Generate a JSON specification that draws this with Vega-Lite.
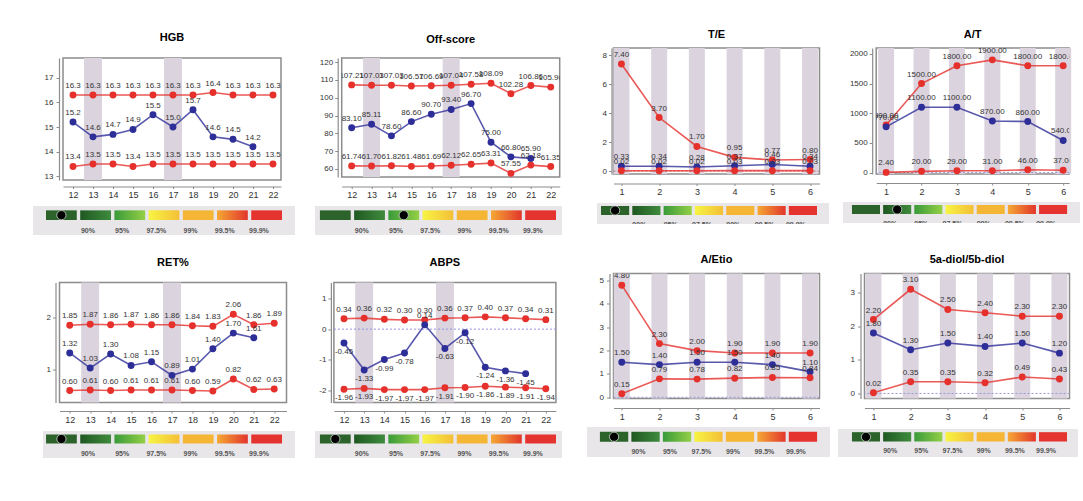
{
"$schema": "https://vega.github.io/schema/vega-lite/v6.json",
"padding": {"left": 33, "top": 27, "right": 0, "bottom": 0},
"background": "white",
"config": {
  "font": "Liberation Sans",
  "locale": {"number": {"decimal": ".", "thousands": ",", "grouping": [3], "currency": ["$", ""], "minus": "-"}},
  "view": {"stroke": "#8c8c8c", "strokeWidth": 1.5},
  "axis": {"grid": false, "labelFont": "Liberation Sans", "labelColor": "#333333", "domainColor": "#8c8c8c", "tickColor": "#8c8c8c", "domainWidth": 1.2, "labelFlush": false, "labelOverlap": false, "labelBound": false},
  "axisY": {"labelFontSize": 8, "tickSize": 3},
  "axisX": {"labelFontSize": 9, "tickSize": 2, "labelPadding": 2, "labelAngle": 0},
  "title": {"fontSize": 11, "fontWeight": "bold", "color": "#000000", "font": "Liberation Sans"}
},
"datasets": {
  "scale": [
    {"level": 0, "row": "s", "label": ""},
    {"level": 1, "row": "s", "label": "90%"},
    {"level": 2, "row": "s", "label": "95%"},
    {"level": 3, "row": "s", "label": "97.5%"},
    {"level": 4, "row": "s", "label": "99%"},
    {"level": 5, "row": "s", "label": "99.5%"},
    {"level": 6, "row": "s", "label": "99.9%"}
  ],
  "hgb": [
    {"x": 12, "series": "upper", "value": 16.3}, {"x": 13, "series": "upper", "value": 16.3}, {"x": 14, "series": "upper", "value": 16.3}, {"x": 15, "series": "upper", "value": 16.3}, {"x": 16, "series": "upper", "value": 16.3}, {"x": 17, "series": "upper", "value": 16.3}, {"x": 18, "series": "upper", "value": 16.3}, {"x": 19, "series": "upper", "value": 16.4}, {"x": 20, "series": "upper", "value": 16.3}, {"x": 21, "series": "upper", "value": 16.3}, {"x": 22, "series": "upper", "value": 16.3},
    {"x": 12, "series": "individual", "value": 15.2}, {"x": 13, "series": "individual", "value": 14.6}, {"x": 14, "series": "individual", "value": 14.7}, {"x": 15, "series": "individual", "value": 14.9}, {"x": 16, "series": "individual", "value": 15.5}, {"x": 17, "series": "individual", "value": 15.0}, {"x": 18, "series": "individual", "value": 15.7}, {"x": 19, "series": "individual", "value": 14.6}, {"x": 20, "series": "individual", "value": 14.5}, {"x": 21, "series": "individual", "value": 14.2},
    {"x": 12, "series": "lower", "value": 13.4}, {"x": 13, "series": "lower", "value": 13.5}, {"x": 14, "series": "lower", "value": 13.5}, {"x": 15, "series": "lower", "value": 13.4}, {"x": 16, "series": "lower", "value": 13.5}, {"x": 17, "series": "lower", "value": 13.5}, {"x": 18, "series": "lower", "value": 13.5}, {"x": 19, "series": "lower", "value": 13.5}, {"x": 20, "series": "lower", "value": 13.5}, {"x": 21, "series": "lower", "value": 13.5}, {"x": 22, "series": "lower", "value": 13.5}
  ],
  "off": [
    {"x": 12, "series": "upper", "value": 107.21}, {"x": 13, "series": "upper", "value": 107.03}, {"x": 14, "series": "upper", "value": 107.03}, {"x": 15, "series": "upper", "value": 106.57}, {"x": 16, "series": "upper", "value": 106.69}, {"x": 17, "series": "upper", "value": 107.04}, {"x": 18, "series": "upper", "value": 107.58}, {"x": 19, "series": "upper", "value": 108.09}, {"x": 20, "series": "upper", "value": 102.28}, {"x": 21, "series": "upper", "value": 106.86}, {"x": 22, "series": "upper", "value": 105.96},
    {"x": 12, "series": "individual", "value": 83.10}, {"x": 13, "series": "individual", "value": 85.11}, {"x": 14, "series": "individual", "value": 78.60}, {"x": 15, "series": "individual", "value": 86.60}, {"x": 16, "series": "individual", "value": 90.70}, {"x": 17, "series": "individual", "value": 93.40}, {"x": 18, "series": "individual", "value": 96.70}, {"x": 19, "series": "individual", "value": 75.00}, {"x": 20, "series": "individual", "value": 66.80}, {"x": 21, "series": "individual", "value": 65.90},
    {"x": 12, "series": "lower", "value": 61.74}, {"x": 13, "series": "lower", "value": 61.70}, {"x": 14, "series": "lower", "value": 61.82}, {"x": 15, "series": "lower", "value": 61.48}, {"x": 16, "series": "lower", "value": 61.69}, {"x": 17, "series": "lower", "value": 62.12}, {"x": 18, "series": "lower", "value": 62.65}, {"x": 19, "series": "lower", "value": 63.31}, {"x": 20, "series": "lower", "value": 57.55}, {"x": 21, "series": "lower", "value": 62.18}, {"x": 22, "series": "lower", "value": 61.35}
  ],
  "te": [
    {"x": 1, "series": "upper", "value": 7.40}, {"x": 2, "series": "upper", "value": 3.70}, {"x": 3, "series": "upper", "value": 1.70}, {"x": 4, "series": "upper", "value": 0.95}, {"x": 5, "series": "upper", "value": 0.77}, {"x": 6, "series": "upper", "value": 0.80},
    {"x": 1, "series": "individual", "value": 0.33}, {"x": 2, "series": "individual", "value": 0.34}, {"x": 3, "series": "individual", "value": 0.28}, {"x": 4, "series": "individual", "value": 0.37}, {"x": 5, "series": "individual", "value": 0.46}, {"x": 6, "series": "individual", "value": 0.34},
    {"x": 1, "series": "lower", "value": 0.02}, {"x": 2, "series": "lower", "value": 0.02}, {"x": 3, "series": "lower", "value": 0.02}, {"x": 4, "series": "lower", "value": 0.03}, {"x": 5, "series": "lower", "value": 0.03}, {"x": 6, "series": "lower", "value": 0.03}
  ],
  "at": [
    {"x": 1, "series": "upper", "value": 800}, {"x": 2, "series": "upper", "value": 1500}, {"x": 3, "series": "upper", "value": 1800}, {"x": 4, "series": "upper", "value": 1900}, {"x": 5, "series": "upper", "value": 1800}, {"x": 6, "series": "upper", "value": 1800},
    {"x": 1, "series": "individual", "value": 770}, {"x": 2, "series": "individual", "value": 1100}, {"x": 3, "series": "individual", "value": 1100}, {"x": 4, "series": "individual", "value": 870}, {"x": 5, "series": "individual", "value": 860}, {"x": 6, "series": "individual", "value": 540},
    {"x": 1, "series": "lower", "value": 2.40}, {"x": 2, "series": "lower", "value": 20.00}, {"x": 3, "series": "lower", "value": 29.00}, {"x": 4, "series": "lower", "value": 31.00}, {"x": 5, "series": "lower", "value": 46.00}, {"x": 6, "series": "lower", "value": 37.00}
  ],
  "ret": [
    {"x": 12, "series": "upper", "value": 1.85}, {"x": 13, "series": "upper", "value": 1.87}, {"x": 14, "series": "upper", "value": 1.86}, {"x": 15, "series": "upper", "value": 1.87}, {"x": 16, "series": "upper", "value": 1.86}, {"x": 17, "series": "upper", "value": 1.86}, {"x": 18, "series": "upper", "value": 1.84}, {"x": 19, "series": "upper", "value": 1.83}, {"x": 20, "series": "upper", "value": 2.06}, {"x": 21, "series": "upper", "value": 1.86}, {"x": 22, "series": "upper", "value": 1.89},
    {"x": 12, "series": "individual", "value": 1.32}, {"x": 13, "series": "individual", "value": 1.03}, {"x": 14, "series": "individual", "value": 1.30}, {"x": 15, "series": "individual", "value": 1.08}, {"x": 16, "series": "individual", "value": 1.15}, {"x": 17, "series": "individual", "value": 0.89}, {"x": 18, "series": "individual", "value": 1.01}, {"x": 19, "series": "individual", "value": 1.40}, {"x": 20, "series": "individual", "value": 1.70}, {"x": 21, "series": "individual", "value": 1.61},
    {"x": 12, "series": "lower", "value": 0.60}, {"x": 13, "series": "lower", "value": 0.61}, {"x": 14, "series": "lower", "value": 0.60}, {"x": 15, "series": "lower", "value": 0.61}, {"x": 16, "series": "lower", "value": 0.61}, {"x": 17, "series": "lower", "value": 0.61}, {"x": 18, "series": "lower", "value": 0.60}, {"x": 19, "series": "lower", "value": 0.59}, {"x": 20, "series": "lower", "value": 0.82}, {"x": 21, "series": "lower", "value": 0.62}, {"x": 22, "series": "lower", "value": 0.63}
  ],
  "abps": [
    {"x": 12, "series": "upper", "value": 0.34}, {"x": 13, "series": "upper", "value": 0.36}, {"x": 14, "series": "upper", "value": 0.32}, {"x": 15, "series": "upper", "value": 0.30}, {"x": 16, "series": "upper", "value": 0.30}, {"x": 17, "series": "upper", "value": 0.36}, {"x": 18, "series": "upper", "value": 0.37}, {"x": 19, "series": "upper", "value": 0.40}, {"x": 20, "series": "upper", "value": 0.37}, {"x": 21, "series": "upper", "value": 0.34}, {"x": 22, "series": "upper", "value": 0.31},
    {"x": 12, "series": "individual", "value": -0.45}, {"x": 13, "series": "individual", "value": -1.33}, {"x": 14, "series": "individual", "value": -0.99}, {"x": 15, "series": "individual", "value": -0.78}, {"x": 16, "series": "individual", "value": 0.14}, {"x": 17, "series": "individual", "value": -0.63}, {"x": 18, "series": "individual", "value": -0.12}, {"x": 19, "series": "individual", "value": -1.24}, {"x": 20, "series": "individual", "value": -1.36}, {"x": 21, "series": "individual", "value": -1.45},
    {"x": 12, "series": "lower", "value": -1.96}, {"x": 13, "series": "lower", "value": -1.93}, {"x": 14, "series": "lower", "value": -1.97}, {"x": 15, "series": "lower", "value": -1.97}, {"x": 16, "series": "lower", "value": -1.97}, {"x": 17, "series": "lower", "value": -1.91}, {"x": 18, "series": "lower", "value": -1.90}, {"x": 19, "series": "lower", "value": -1.86}, {"x": 20, "series": "lower", "value": -1.89}, {"x": 21, "series": "lower", "value": -1.91}, {"x": 22, "series": "lower", "value": -1.94}
  ],
  "aetio": [
    {"x": 1, "series": "upper", "value": 4.80}, {"x": 2, "series": "upper", "value": 2.30}, {"x": 3, "series": "upper", "value": 2.00}, {"x": 4, "series": "upper", "value": 1.90}, {"x": 5, "series": "upper", "value": 1.90}, {"x": 6, "series": "upper", "value": 1.90},
    {"x": 1, "series": "individual", "value": 1.50}, {"x": 2, "series": "individual", "value": 1.40}, {"x": 3, "series": "individual", "value": 1.50}, {"x": 4, "series": "individual", "value": 1.50}, {"x": 5, "series": "individual", "value": 1.40}, {"x": 6, "series": "individual", "value": 1.10},
    {"x": 1, "series": "lower", "value": 0.15}, {"x": 2, "series": "lower", "value": 0.79}, {"x": 3, "series": "lower", "value": 0.78}, {"x": 4, "series": "lower", "value": 0.82}, {"x": 5, "series": "lower", "value": 0.85}, {"x": 6, "series": "lower", "value": 0.84}
  ],
  "diol": [
    {"x": 1, "series": "upper", "value": 2.20}, {"x": 2, "series": "upper", "value": 3.10}, {"x": 3, "series": "upper", "value": 2.50}, {"x": 4, "series": "upper", "value": 2.40}, {"x": 5, "series": "upper", "value": 2.30}, {"x": 6, "series": "upper", "value": 2.30},
    {"x": 1, "series": "individual", "value": 1.80}, {"x": 2, "series": "individual", "value": 1.30}, {"x": 3, "series": "individual", "value": 1.50}, {"x": 4, "series": "individual", "value": 1.40}, {"x": 5, "series": "individual", "value": 1.50}, {"x": 6, "series": "individual", "value": 1.20},
    {"x": 1, "series": "lower", "value": 0.02}, {"x": 2, "series": "lower", "value": 0.35}, {"x": 3, "series": "lower", "value": 0.35}, {"x": 4, "series": "lower", "value": 0.32}, {"x": 5, "series": "lower", "value": 0.49}, {"x": 6, "series": "lower", "value": 0.43}
  ]
},
"spacing": 25,
"hconcat": [
 {"spacing": 20.5, "vconcat": [
  {"spacing": -18, "vconcat": [
   {"width": 1, "height": 1, "view": {"stroke": null}, "data": {"values": []}, "mark": "point"},
   {"spacing": 20, "hconcat": [
    {"spacing": 5, "vconcat": [
     {"spacing": 9, "hconcat": [
      {"width": 1, "height": 122, "view": {"stroke": null}, "data": {"values": []}, "mark": "point"},
      {"width": 218, "height": 122, "title": {"text": "HGB", "offset": 6}, "data": {"name": "hgb"},
       "layer": [
        {"data": {"values": [{"x": 13}, {"x": 17}]}, "mark": {"type": "rule", "color": "#dbd3de", "strokeWidth": 18},
         "encoding": {"x": {"field": "x", "type": "quantitative", "title": null, "scale": {"domain": [11.5, 22.4], "nice": false, "zero": false}, "axis": {"values": [12,13,14,15,16,17,18,19,20,21,22], "offset": 6.5, "format": "d", "labelOverlap": false}}}},
        {"mark": {"type": "line", "strokeWidth": 1.6, "opacity": 0.8},
         "encoding": {"x": {"field": "x", "type": "quantitative", "title": null, "scale": {"domain": [11.5, 22.4], "nice": false, "zero": false}, "axis": {"values": [12,13,14,15,16,17,18,19,20,21,22], "offset": 6.5, "format": "d", "labelOverlap": false}},
                      "y": {"field": "value", "type": "quantitative", "title": null, "scale": {"domain": [12.85, 17.8], "nice": false, "zero": false}, "axis": {"values": [13,14,15,16,17], "offset": 4, "labelPadding": 3, "labelOverlap": false}},
                      "color": {"field": "series", "type": "nominal", "scale": {"domain": ["upper", "individual", "lower"], "range": ["#e5302c", "#2e2e98", "#e5302c"]}, "legend": null}}},
        {"mark": {"type": "circle", "size": 48, "opacity": 1},
         "encoding": {"x": {"field": "x", "type": "quantitative", "title": null, "scale": {"domain": [11.5, 22.4], "nice": false, "zero": false}, "axis": {"values": [12,13,14,15,16,17,18,19,20,21,22], "offset": 6.5, "format": "d", "labelOverlap": false}},
                      "y": {"field": "value", "type": "quantitative", "title": null, "scale": {"domain": [12.85, 17.8], "nice": false, "zero": false}, "axis": {"values": [13,14,15,16,17], "offset": 4, "labelPadding": 3, "labelOverlap": false}},
                      "color": {"field": "series", "type": "nominal", "scale": {"domain": ["upper", "individual", "lower"], "range": ["#e5302c", "#2e2e98", "#e5302c"]}, "legend": null}}},
        {"mark": {"type": "text", "dy": -9, "fontSize": 8, "color": "#333333", "clip": true},
         "encoding": {"x": {"field": "x", "type": "quantitative", "title": null, "scale": {"domain": [11.5, 22.4], "nice": false, "zero": false}, "axis": {"values": [12,13,14,15,16,17,18,19,20,21,22], "offset": 6.5, "format": "d", "labelOverlap": false}},
                      "y": {"field": "value", "type": "quantitative", "title": null, "scale": {"domain": [12.85, 17.8], "nice": false, "zero": false}, "axis": {"values": [13,14,15,16,17], "offset": 4, "labelPadding": 3, "labelOverlap": false}},
                      "text": {"field": "value", "type": "quantitative", "format": ".1f"}}}
       ]}
     ]},
     {"width": 262, "height": 29, "view": {"fill": "#e8e6e8", "stroke": null}, "data": {"name": "scale"},
      "encoding": {"x": {"field": "level", "type": "ordinal", "scale": {"domain": [0,1,2,3,4,5,6], "paddingInner": 0.1, "paddingOuter": 0.38, "align": 0.5}, "axis": null},
                   "y": {"field": "row", "type": "nominal", "scale": {"paddingInner": 0, "paddingOuter": 1.111, "align": 0.225}, "axis": null}},
      "layer": [
       {"transform": [{"filter": "datum.level == 0"}], "mark": {"type": "rect", "fill": "#2b632b"}},
       {"transform": [{"filter": "datum.level == 1"}], "mark": {"type": "rect", "fill": {"gradient": "linear", "x1": 0, "x2": 1, "y1": 0, "y2": 0, "stops": [{"offset": 0, "color": "#1f5822"}, {"offset": 1, "color": "#3f8b3d"}]}}},
       {"transform": [{"filter": "datum.level == 2"}], "mark": {"type": "rect", "fill": {"gradient": "linear", "x1": 0, "x2": 1, "y1": 0, "y2": 0, "stops": [{"offset": 0, "color": "#3a9a3a"}, {"offset": 1, "color": "#93d046"}]}}},
       {"transform": [{"filter": "datum.level == 3"}], "mark": {"type": "rect", "fill": {"gradient": "linear", "x1": 0, "x2": 1, "y1": 0, "y2": 0, "stops": [{"offset": 0, "color": "#f7f442"}, {"offset": 1, "color": "#f4bf38"}]}}},
       {"transform": [{"filter": "datum.level == 4"}], "mark": {"type": "rect", "fill": "#f5b535"}},
       {"transform": [{"filter": "datum.level == 5"}], "mark": {"type": "rect", "fill": {"gradient": "linear", "x1": 0, "x2": 1, "y1": 0, "y2": 0, "stops": [{"offset": 0, "color": "#f5a834"}, {"offset": 1, "color": "#e2352c"}]}}},
       {"transform": [{"filter": "datum.level == 6"}], "mark": {"type": "rect", "fill": "#e5342f"}},
       {"transform": [{"filter": "datum.level > 0"}], "mark": {"type": "text", "dy": 16, "fontSize": 7, "fontWeight": "bold", "color": "#555555"},
        "encoding": {"x": {"field": "level", "type": "ordinal", "bandPosition": 0.25, "scale": {"domain": [0,1,2,3,4,5,6], "paddingInner": 0.1, "paddingOuter": 0.38, "align": 0.5}, "axis": null}, "text": {"field": "label"}}},
       {"data": {"values": [{"level": 0, "row": "s"}]}, "mark": {"type": "point", "filled": true, "color": "#000000", "size": 85, "opacity": 1, "stroke": "#d0d8d0", "strokeWidth": 0.8}}
      ]}
    ]},
    {"spacing": 5, "vconcat": [
     {"spacing": 1.7, "hconcat": [
      {"width": 1, "height": 119, "view": {"stroke": null}, "data": {"values": []}, "mark": "point"},
      {"width": 218, "height": 119, "title": {"text": "Off-score", "offset": 5}, "data": {"name": "off"},
       "layer": [
        {"data": {"values": [{"x": 13}, {"x": 17}]}, "mark": {"type": "rule", "color": "#dbd3de", "strokeWidth": 17},
         "encoding": {"x": {"field": "x", "type": "quantitative", "title": null, "scale": {"domain": [11.5, 22.45], "nice": false, "zero": false}, "axis": {"values": [12,13,14,15,16,17,18,19,20,21,22], "offset": 9.5, "format": "d", "labelOverlap": false}}}},
        {"mark": {"type": "line", "strokeWidth": 1.6, "opacity": 0.8},
         "encoding": {"x": {"field": "x", "type": "quantitative", "title": null, "scale": {"domain": [11.5, 22.45], "nice": false, "zero": false}, "axis": {"values": [12,13,14,15,16,17,18,19,20,21,22], "offset": 9.5, "format": "d", "labelOverlap": false}},
                      "y": {"field": "value", "type": "quantitative", "title": null, "scale": {"domain": [55.5, 122.3], "nice": false, "zero": false}, "axis": {"values": [60,70,80,90,100,110,120], "offset": 4, "labelPadding": 2, "labelOverlap": false}},
                      "color": {"field": "series", "type": "nominal", "scale": {"domain": ["upper", "individual", "lower"], "range": ["#e5302c", "#2e2e98", "#e5302c"]}, "legend": null}}},
        {"mark": {"type": "circle", "size": 48, "opacity": 1},
         "encoding": {"x": {"field": "x", "type": "quantitative", "title": null, "scale": {"domain": [11.5, 22.45], "nice": false, "zero": false}, "axis": {"values": [12,13,14,15,16,17,18,19,20,21,22], "offset": 9.5, "format": "d", "labelOverlap": false}},
                      "y": {"field": "value", "type": "quantitative", "title": null, "scale": {"domain": [55.5, 122.3], "nice": false, "zero": false}, "axis": {"values": [60,70,80,90,100,110,120], "offset": 4, "labelPadding": 2, "labelOverlap": false}},
                      "color": {"field": "series", "type": "nominal", "scale": {"domain": ["upper", "individual", "lower"], "range": ["#e5302c", "#2e2e98", "#e5302c"]}, "legend": null}}},
        {"mark": {"type": "text", "dy": -9, "fontSize": 8, "color": "#333333", "clip": true},
         "encoding": {"x": {"field": "x", "type": "quantitative", "title": null, "scale": {"domain": [11.5, 22.45], "nice": false, "zero": false}, "axis": {"values": [12,13,14,15,16,17,18,19,20,21,22], "offset": 9.5, "format": "d", "labelOverlap": false}},
                      "y": {"field": "value", "type": "quantitative", "title": null, "scale": {"domain": [55.5, 122.3], "nice": false, "zero": false}, "axis": {"values": [60,70,80,90,100,110,120], "offset": 4, "labelPadding": 2, "labelOverlap": false}},
                      "text": {"field": "value", "type": "quantitative", "format": ".2f"}}}
       ]}
     ]},
     {"width": 247, "height": 29, "view": {"fill": "#e8e6e8", "stroke": null}, "data": {"name": "scale"},
      "encoding": {"x": {"field": "level", "type": "ordinal", "scale": {"domain": [0,1,2,3,4,5,6], "paddingInner": 0.1, "paddingOuter": 0.16, "align": 0.45}, "axis": null},
                   "y": {"field": "row", "type": "nominal", "scale": {"paddingInner": 0, "paddingOuter": 1.111, "align": 0.225}, "axis": null}},
      "layer": [
       {"transform": [{"filter": "datum.level == 0"}], "mark": {"type": "rect", "fill": "#2b632b"}},
       {"transform": [{"filter": "datum.level == 1"}], "mark": {"type": "rect", "fill": {"gradient": "linear", "x1": 0, "x2": 1, "y1": 0, "y2": 0, "stops": [{"offset": 0, "color": "#1f5822"}, {"offset": 1, "color": "#3f8b3d"}]}}},
       {"transform": [{"filter": "datum.level == 2"}], "mark": {"type": "rect", "fill": {"gradient": "linear", "x1": 0, "x2": 1, "y1": 0, "y2": 0, "stops": [{"offset": 0, "color": "#3a9a3a"}, {"offset": 1, "color": "#93d046"}]}}},
       {"transform": [{"filter": "datum.level == 3"}], "mark": {"type": "rect", "fill": {"gradient": "linear", "x1": 0, "x2": 1, "y1": 0, "y2": 0, "stops": [{"offset": 0, "color": "#f7f442"}, {"offset": 1, "color": "#f4bf38"}]}}},
       {"transform": [{"filter": "datum.level == 4"}], "mark": {"type": "rect", "fill": "#f5b535"}},
       {"transform": [{"filter": "datum.level == 5"}], "mark": {"type": "rect", "fill": {"gradient": "linear", "x1": 0, "x2": 1, "y1": 0, "y2": 0, "stops": [{"offset": 0, "color": "#f5a834"}, {"offset": 1, "color": "#e2352c"}]}}},
       {"transform": [{"filter": "datum.level == 6"}], "mark": {"type": "rect", "fill": "#e5342f"}},
       {"transform": [{"filter": "datum.level > 0"}], "mark": {"type": "text", "dy": 16, "fontSize": 7, "fontWeight": "bold", "color": "#555555"},
        "encoding": {"x": {"field": "level", "type": "ordinal", "bandPosition": 0.25, "scale": {"domain": [0,1,2,3,4,5,6], "paddingInner": 0.1, "paddingOuter": 0.16, "align": 0.45}, "axis": null}, "text": {"field": "label"}}},
       {"data": {"values": [{"level": 2, "row": "s"}]}, "mark": {"type": "point", "filled": true, "color": "#000000", "size": 85, "opacity": 1, "stroke": "#d0d8d0", "strokeWidth": 0.8}}
      ]}
    ]}
   ]}
  ]},
  {"spacing": 9, "hconcat": [
   {"width": 1, "height": 120, "view": {"stroke": null}, "data": {"values": []}, "mark": "point"},
   {"spacing": 20, "hconcat": [
    {"spacing": 5.5, "vconcat": [
     {"spacing": 0.5, "hconcat": [
      {"width": 1, "height": 120, "view": {"stroke": null}, "data": {"values": []}, "mark": "point"},
      {"width": 227, "height": 120, "title": {"text": "RET%", "offset": 6}, "data": {"name": "ret"},
       "layer": [
        {"data": {"values": [{"x": 13}, {"x": 17}]}, "mark": {"type": "rule", "color": "#dbd3de", "strokeWidth": 18},
         "encoding": {"x": {"field": "x", "type": "quantitative", "title": null, "scale": {"domain": [11.5, 22.6], "nice": false, "zero": false}, "axis": {"values": [12,13,14,15,16,17,18,19,20,21,22], "offset": 8.5, "format": "d", "labelOverlap": false}}}},
        {"mark": {"type": "line", "strokeWidth": 1.6, "opacity": 0.8},
         "encoding": {"x": {"field": "x", "type": "quantitative", "title": null, "scale": {"domain": [11.5, 22.6], "nice": false, "zero": false}, "axis": {"values": [12,13,14,15,16,17,18,19,20,21,22], "offset": 8.5, "format": "d", "labelOverlap": false}},
                      "y": {"field": "value", "type": "quantitative", "title": null, "scale": {"domain": [0.37, 2.67], "nice": false, "zero": false}, "axis": {"values": [1,2], "offset": 4, "labelPadding": 2, "labelOverlap": false}},
                      "color": {"field": "series", "type": "nominal", "scale": {"domain": ["upper", "individual", "lower"], "range": ["#e5302c", "#2e2e98", "#e5302c"]}, "legend": null}}},
        {"mark": {"type": "circle", "size": 48, "opacity": 1},
         "encoding": {"x": {"field": "x", "type": "quantitative", "title": null, "scale": {"domain": [11.5, 22.6], "nice": false, "zero": false}, "axis": {"values": [12,13,14,15,16,17,18,19,20,21,22], "offset": 8.5, "format": "d", "labelOverlap": false}},
                      "y": {"field": "value", "type": "quantitative", "title": null, "scale": {"domain": [0.37, 2.67], "nice": false, "zero": false}, "axis": {"values": [1,2], "offset": 4, "labelPadding": 2, "labelOverlap": false}},
                      "color": {"field": "series", "type": "nominal", "scale": {"domain": ["upper", "individual", "lower"], "range": ["#e5302c", "#2e2e98", "#e5302c"]}, "legend": null}}},
        {"mark": {"type": "text", "dy": -9, "fontSize": 8, "color": "#333333", "clip": true},
         "encoding": {"x": {"field": "x", "type": "quantitative", "title": null, "scale": {"domain": [11.5, 22.6], "nice": false, "zero": false}, "axis": {"values": [12,13,14,15,16,17,18,19,20,21,22], "offset": 8.5, "format": "d", "labelOverlap": false}},
                      "y": {"field": "value", "type": "quantitative", "title": null, "scale": {"domain": [0.37, 2.67], "nice": false, "zero": false}, "axis": {"values": [1,2], "offset": 4, "labelPadding": 2, "labelOverlap": false}},
                      "text": {"field": "value", "type": "quantitative", "format": ".2f"}}}
       ]}
     ]},
     {"width": 252, "height": 27, "view": {"fill": "#e8e6e8", "stroke": null}, "data": {"name": "scale"},
      "encoding": {"x": {"field": "level", "type": "ordinal", "scale": {"domain": [0,1,2,3,4,5,6], "paddingInner": 0.1, "paddingOuter": 0.234, "align": 0.19}, "axis": null},
                   "y": {"field": "row", "type": "nominal", "scale": {"paddingInner": 0, "paddingOuter": 1.0, "align": 0.194}, "axis": null}},
      "layer": [
       {"transform": [{"filter": "datum.level == 0"}], "mark": {"type": "rect", "fill": "#2b632b"}},
       {"transform": [{"filter": "datum.level == 1"}], "mark": {"type": "rect", "fill": {"gradient": "linear", "x1": 0, "x2": 1, "y1": 0, "y2": 0, "stops": [{"offset": 0, "color": "#1f5822"}, {"offset": 1, "color": "#3f8b3d"}]}}},
       {"transform": [{"filter": "datum.level == 2"}], "mark": {"type": "rect", "fill": {"gradient": "linear", "x1": 0, "x2": 1, "y1": 0, "y2": 0, "stops": [{"offset": 0, "color": "#3a9a3a"}, {"offset": 1, "color": "#93d046"}]}}},
       {"transform": [{"filter": "datum.level == 3"}], "mark": {"type": "rect", "fill": {"gradient": "linear", "x1": 0, "x2": 1, "y1": 0, "y2": 0, "stops": [{"offset": 0, "color": "#f7f442"}, {"offset": 1, "color": "#f4bf38"}]}}},
       {"transform": [{"filter": "datum.level == 4"}], "mark": {"type": "rect", "fill": "#f5b535"}},
       {"transform": [{"filter": "datum.level == 5"}], "mark": {"type": "rect", "fill": {"gradient": "linear", "x1": 0, "x2": 1, "y1": 0, "y2": 0, "stops": [{"offset": 0, "color": "#f5a834"}, {"offset": 1, "color": "#e2352c"}]}}},
       {"transform": [{"filter": "datum.level == 6"}], "mark": {"type": "rect", "fill": "#e5342f"}},
       {"transform": [{"filter": "datum.level > 0"}], "mark": {"type": "text", "dy": 15, "fontSize": 7, "fontWeight": "bold", "color": "#555555"},
        "encoding": {"x": {"field": "level", "type": "ordinal", "bandPosition": 0.25, "scale": {"domain": [0,1,2,3,4,5,6], "paddingInner": 0.1, "paddingOuter": 0.234, "align": 0.19}, "axis": null}, "text": {"field": "label"}}},
       {"data": {"values": [{"level": 0, "row": "s"}]}, "mark": {"type": "point", "filled": true, "color": "#000000", "size": 85, "opacity": 1, "stroke": "#d0d8d0", "strokeWidth": 0.8}}
      ]}
    ]},
    {"spacing": 5.5, "vconcat": [
     {"spacing": 1.9, "hconcat": [
      {"width": 1, "height": 120, "view": {"stroke": null}, "data": {"values": []}, "mark": "point"},
      {"width": 222, "height": 120, "title": {"text": "ABPS", "offset": 6}, "data": {"name": "abps"},
       "layer": [
        {"data": {"values": [{"x": 13}, {"x": 17}]}, "mark": {"type": "rule", "color": "#dbd3de", "strokeWidth": 18},
         "encoding": {"x": {"field": "x", "type": "quantitative", "title": null, "scale": {"domain": [11.5, 22.5], "nice": false, "zero": false}, "axis": {"values": [12,13,14,15,16,17,18,19,20,21,22], "offset": 8.5, "format": "d", "labelOverlap": false}}}},
        {"data": {"values": [{"value": 0}]}, "mark": {"type": "rule", "color": "#8f8fe0", "strokeDash": [2, 2], "strokeWidth": 1},
         "encoding": {"y": {"field": "value", "type": "quantitative", "title": null, "scale": {"domain": [-2.39, 1.52], "nice": false, "zero": false}, "axis": {"values": [-2,-1,0,1], "offset": 3, "labelPadding": 2, "labelOverlap": false}}}},
        {"mark": {"type": "line", "strokeWidth": 1.6, "opacity": 0.8},
         "encoding": {"x": {"field": "x", "type": "quantitative", "title": null, "scale": {"domain": [11.5, 22.5], "nice": false, "zero": false}, "axis": {"values": [12,13,14,15,16,17,18,19,20,21,22], "offset": 8.5, "format": "d", "labelOverlap": false}},
                      "y": {"field": "value", "type": "quantitative", "title": null, "scale": {"domain": [-2.39, 1.52], "nice": false, "zero": false}, "axis": {"values": [-2,-1,0,1], "offset": 3, "labelPadding": 2, "labelOverlap": false}},
                      "color": {"field": "series", "type": "nominal", "scale": {"domain": ["upper", "individual", "lower"], "range": ["#e5302c", "#2e2e98", "#e5302c"]}, "legend": null}}},
        {"mark": {"type": "circle", "size": 48, "opacity": 1},
         "encoding": {"x": {"field": "x", "type": "quantitative", "title": null, "scale": {"domain": [11.5, 22.5], "nice": false, "zero": false}, "axis": {"values": [12,13,14,15,16,17,18,19,20,21,22], "offset": 8.5, "format": "d", "labelOverlap": false}},
                      "y": {"field": "value", "type": "quantitative", "title": null, "scale": {"domain": [-2.39, 1.52], "nice": false, "zero": false}, "axis": {"values": [-2,-1,0,1], "offset": 3, "labelPadding": 2, "labelOverlap": false}},
                      "color": {"field": "series", "type": "nominal", "scale": {"domain": ["upper", "individual", "lower"], "range": ["#e5302c", "#2e2e98", "#e5302c"]}, "legend": null}}},
        {"transform": [{"filter": "datum.series == 'upper' || (datum.series == 'individual' && datum.x == 16)"}],
         "mark": {"type": "text", "dy": -9, "fontSize": 8, "color": "#333333", "clip": true},
         "encoding": {"x": {"field": "x", "type": "quantitative", "title": null, "scale": {"domain": [11.5, 22.5], "nice": false, "zero": false}, "axis": {"values": [12,13,14,15,16,17,18,19,20,21,22], "offset": 8.5, "format": "d", "labelOverlap": false}},
                      "y": {"field": "value", "type": "quantitative", "title": null, "scale": {"domain": [-2.39, 1.52], "nice": false, "zero": false}, "axis": {"values": [-2,-1,0,1], "offset": 3, "labelPadding": 2, "labelOverlap": false}},
                      "text": {"field": "value", "type": "quantitative", "format": ".2f"}}},
        {"transform": [{"filter": "datum.series == 'lower' || (datum.series == 'individual' && datum.x != 16)"}],
         "mark": {"type": "text", "dy": 9, "fontSize": 8, "color": "#333333", "clip": true},
         "encoding": {"x": {"field": "x", "type": "quantitative", "title": null, "scale": {"domain": [11.5, 22.5], "nice": false, "zero": false}, "axis": {"values": [12,13,14,15,16,17,18,19,20,21,22], "offset": 8.5, "format": "d", "labelOverlap": false}},
                      "y": {"field": "value", "type": "quantitative", "title": null, "scale": {"domain": [-2.39, 1.52], "nice": false, "zero": false}, "axis": {"values": [-2,-1,0,1], "offset": 3, "labelPadding": 2, "labelOverlap": false}},
                      "text": {"field": "value", "type": "quantitative", "format": ".2f"}}}
       ]}
     ]},
     {"width": 247, "height": 27, "view": {"fill": "#e8e6e8", "stroke": null}, "data": {"name": "scale"},
      "encoding": {"x": {"field": "level", "type": "ordinal", "scale": {"domain": [0,1,2,3,4,5,6], "paddingInner": 0.1, "paddingOuter": 0.16, "align": 0.45}, "axis": null},
                   "y": {"field": "row", "type": "nominal", "scale": {"paddingInner": 0, "paddingOuter": 1.0, "align": 0.194}, "axis": null}},
      "layer": [
       {"transform": [{"filter": "datum.level == 0"}], "mark": {"type": "rect", "fill": "#2b632b"}},
       {"transform": [{"filter": "datum.level == 1"}], "mark": {"type": "rect", "fill": {"gradient": "linear", "x1": 0, "x2": 1, "y1": 0, "y2": 0, "stops": [{"offset": 0, "color": "#1f5822"}, {"offset": 1, "color": "#3f8b3d"}]}}},
       {"transform": [{"filter": "datum.level == 2"}], "mark": {"type": "rect", "fill": {"gradient": "linear", "x1": 0, "x2": 1, "y1": 0, "y2": 0, "stops": [{"offset": 0, "color": "#3a9a3a"}, {"offset": 1, "color": "#93d046"}]}}},
       {"transform": [{"filter": "datum.level == 3"}], "mark": {"type": "rect", "fill": {"gradient": "linear", "x1": 0, "x2": 1, "y1": 0, "y2": 0, "stops": [{"offset": 0, "color": "#f7f442"}, {"offset": 1, "color": "#f4bf38"}]}}},
       {"transform": [{"filter": "datum.level == 4"}], "mark": {"type": "rect", "fill": "#f5b535"}},
       {"transform": [{"filter": "datum.level == 5"}], "mark": {"type": "rect", "fill": {"gradient": "linear", "x1": 0, "x2": 1, "y1": 0, "y2": 0, "stops": [{"offset": 0, "color": "#f5a834"}, {"offset": 1, "color": "#e2352c"}]}}},
       {"transform": [{"filter": "datum.level == 6"}], "mark": {"type": "rect", "fill": "#e5342f"}},
       {"transform": [{"filter": "datum.level > 0"}], "mark": {"type": "text", "dy": 15, "fontSize": 7, "fontWeight": "bold", "color": "#555555"},
        "encoding": {"x": {"field": "level", "type": "ordinal", "bandPosition": 0.25, "scale": {"domain": [0,1,2,3,4,5,6], "paddingInner": 0.1, "paddingOuter": 0.16, "align": 0.45}, "axis": null}, "text": {"field": "label"}}},
       {"data": {"values": [{"level": 0, "row": "s"}]}, "mark": {"type": "point", "filled": true, "color": "#000000", "size": 85, "opacity": 1, "stroke": "#d0d8d0", "strokeWidth": 0.8}}
      ]}
    ]}
   ]}
  ]}
 ]},
 {"spacing": 28.5, "vconcat": [
  {"spacing": 9, "hconcat": [
   {"width": 1, "height": 126, "view": {"stroke": null}, "data": {"values": []}, "mark": "point"},
   {"spacing": 14, "hconcat": [
    {"spacing": 5, "vconcat": [
     {"spacing": 2.5, "hconcat": [
      {"width": 1, "height": 126, "view": {"stroke": null}, "data": {"values": []}, "mark": "point"},
      {"width": 206, "height": 126, "title": {"text": "T/E", "offset": 0.5}, "data": {"name": "te"},
       "layer": [
        {"data": {"values": [{"x": 1}, {"x": 2}, {"x": 3}, {"x": 4}, {"x": 5}, {"x": 6}]}, "mark": {"type": "rule", "color": "#dbd3de", "strokeWidth": 16},
         "encoding": {"x": {"field": "x", "type": "quantitative", "title": null, "scale": {"domain": [0.79, 6.25], "nice": false, "zero": false}, "axis": {"values": [1,2,3,4,5,6], "offset": 9.5, "format": "d", "labelOverlap": false}}}},
        {"data": {"values": [{"value": 0}]}, "mark": {"type": "rule", "color": "#c07080", "strokeDash": [2, 2], "strokeWidth": 1},
         "encoding": {"y": {"field": "value", "type": "quantitative", "title": null, "scale": {"domain": [-0.2, 8.5], "nice": false, "zero": false}, "axis": {"values": [0,2,4,6,8], "offset": 2, "labelPadding": 2, "labelOverlap": false}}}},
        {"mark": {"type": "line", "strokeWidth": 1.6, "opacity": 0.8},
         "encoding": {"x": {"field": "x", "type": "quantitative", "title": null, "scale": {"domain": [0.79, 6.25], "nice": false, "zero": false}, "axis": {"values": [1,2,3,4,5,6], "offset": 9.5, "format": "d", "labelOverlap": false}},
                      "y": {"field": "value", "type": "quantitative", "title": null, "scale": {"domain": [-0.2, 8.5], "nice": false, "zero": false}, "axis": {"values": [0,2,4,6,8], "offset": 2, "labelPadding": 2, "labelOverlap": false}},
                      "color": {"field": "series", "type": "nominal", "scale": {"domain": ["upper", "individual", "lower"], "range": ["#e5302c", "#2e2e98", "#e5302c"]}, "legend": null}}},
        {"mark": {"type": "circle", "size": 48, "opacity": 1},
         "encoding": {"x": {"field": "x", "type": "quantitative", "title": null, "scale": {"domain": [0.79, 6.25], "nice": false, "zero": false}, "axis": {"values": [1,2,3,4,5,6], "offset": 9.5, "format": "d", "labelOverlap": false}},
                      "y": {"field": "value", "type": "quantitative", "title": null, "scale": {"domain": [-0.2, 8.5], "nice": false, "zero": false}, "axis": {"values": [0,2,4,6,8], "offset": 2, "labelPadding": 2, "labelOverlap": false}},
                      "color": {"field": "series", "type": "nominal", "scale": {"domain": ["upper", "individual", "lower"], "range": ["#e5302c", "#2e2e98", "#e5302c"]}, "legend": null}}},
        {"mark": {"type": "text", "dy": -9, "fontSize": 8, "color": "#333333", "clip": true},
         "encoding": {"x": {"field": "x", "type": "quantitative", "title": null, "scale": {"domain": [0.79, 6.25], "nice": false, "zero": false}, "axis": {"values": [1,2,3,4,5,6], "offset": 9.5, "format": "d", "labelOverlap": false}},
                      "y": {"field": "value", "type": "quantitative", "title": null, "scale": {"domain": [-0.2, 8.5], "nice": false, "zero": false}, "axis": {"values": [0,2,4,6,8], "offset": 2, "labelPadding": 2, "labelOverlap": false}},
                      "text": {"field": "value", "type": "quantitative", "format": ".2f"}}}
       ]}
     ]},
     {"width": 232, "height": 21, "view": {"fill": "#e8e6e8", "stroke": null}, "data": {"name": "scale"},
      "encoding": {"x": {"field": "level", "type": "ordinal", "scale": {"domain": [0,1,2,3,4,5,6], "paddingInner": 0.1, "paddingOuter": 0.256, "align": 0.25}, "axis": null},
                   "y": {"field": "row", "type": "nominal", "scale": {"paddingInner": 0, "paddingOuter": 0.667, "align": 0.25}, "axis": null}},
      "layer": [
       {"transform": [{"filter": "datum.level == 0"}], "mark": {"type": "rect", "fill": "#2b632b"}},
       {"transform": [{"filter": "datum.level == 1"}], "mark": {"type": "rect", "fill": {"gradient": "linear", "x1": 0, "x2": 1, "y1": 0, "y2": 0, "stops": [{"offset": 0, "color": "#1f5822"}, {"offset": 1, "color": "#3f8b3d"}]}}},
       {"transform": [{"filter": "datum.level == 2"}], "mark": {"type": "rect", "fill": {"gradient": "linear", "x1": 0, "x2": 1, "y1": 0, "y2": 0, "stops": [{"offset": 0, "color": "#3a9a3a"}, {"offset": 1, "color": "#93d046"}]}}},
       {"transform": [{"filter": "datum.level == 3"}], "mark": {"type": "rect", "fill": {"gradient": "linear", "x1": 0, "x2": 1, "y1": 0, "y2": 0, "stops": [{"offset": 0, "color": "#f7f442"}, {"offset": 1, "color": "#f4bf38"}]}}},
       {"transform": [{"filter": "datum.level == 4"}], "mark": {"type": "rect", "fill": "#f5b535"}},
       {"transform": [{"filter": "datum.level == 5"}], "mark": {"type": "rect", "fill": {"gradient": "linear", "x1": 0, "x2": 1, "y1": 0, "y2": 0, "stops": [{"offset": 0, "color": "#f5a834"}, {"offset": 1, "color": "#e2352c"}]}}},
       {"transform": [{"filter": "datum.level == 6"}], "mark": {"type": "rect", "fill": "#e5342f"}},
       {"transform": [{"filter": "datum.level > 0"}], "mark": {"type": "text", "dy": 14.5, "fontSize": 7, "fontWeight": "bold", "color": "#555555", "clip": true},
        "encoding": {"x": {"field": "level", "type": "ordinal", "bandPosition": 0.25, "scale": {"domain": [0,1,2,3,4,5,6], "paddingInner": 0.1, "paddingOuter": 0.256, "align": 0.25}, "axis": null}, "text": {"field": "label"}}},
       {"data": {"values": [{"level": 0, "row": "s"}]}, "mark": {"type": "point", "filled": true, "color": "#000000", "size": 85, "opacity": 1, "stroke": "#d0d8d0", "strokeWidth": 0.8}}
      ]}
    ]},
    {"spacing": 5, "vconcat": [
     {"spacing": 4.2, "hconcat": [
      {"width": 1, "height": 126, "view": {"stroke": null}, "data": {"values": []}, "mark": "point"},
      {"width": 193, "height": 126, "title": {"text": "A/T", "offset": 0}, "data": {"name": "at"},
       "layer": [
        {"data": {"values": [{"x": 1}, {"x": 2}, {"x": 3}, {"x": 4}, {"x": 5}, {"x": 6}]}, "mark": {"type": "rule", "color": "#dbd3de", "strokeWidth": 16},
         "encoding": {"x": {"field": "x", "type": "quantitative", "title": null, "scale": {"domain": [0.72, 6.17], "nice": false, "zero": false}, "axis": {"values": [1,2,3,4,5,6], "offset": 9, "format": "d", "labelOverlap": false}}}},
        {"data": {"values": [{"value": 0}]}, "mark": {"type": "rule", "color": "#9a9ad6", "strokeDash": [2, 2], "strokeWidth": 1},
         "encoding": {"y": {"field": "value", "type": "quantitative", "title": null, "scale": {"domain": [-25, 2100], "nice": false, "zero": false}, "axis": {"values": [0,500,1000,1500,2000], "offset": 4, "labelPadding": 2, "format": "d", "labelOverlap": false}}}},
        {"mark": {"type": "line", "strokeWidth": 1.6, "opacity": 0.8},
         "encoding": {"x": {"field": "x", "type": "quantitative", "title": null, "scale": {"domain": [0.72, 6.17], "nice": false, "zero": false}, "axis": {"values": [1,2,3,4,5,6], "offset": 9, "format": "d", "labelOverlap": false}},
                      "y": {"field": "value", "type": "quantitative", "title": null, "scale": {"domain": [-25, 2100], "nice": false, "zero": false}, "axis": {"values": [0,500,1000,1500,2000], "offset": 4, "labelPadding": 2, "format": "d", "labelOverlap": false}},
                      "color": {"field": "series", "type": "nominal", "scale": {"domain": ["upper", "individual", "lower"], "range": ["#e5302c", "#2e2e98", "#e5302c"]}, "legend": null}}},
        {"mark": {"type": "circle", "size": 48, "opacity": 1},
         "encoding": {"x": {"field": "x", "type": "quantitative", "title": null, "scale": {"domain": [0.72, 6.17], "nice": false, "zero": false}, "axis": {"values": [1,2,3,4,5,6], "offset": 9, "format": "d", "labelOverlap": false}},
                      "y": {"field": "value", "type": "quantitative", "title": null, "scale": {"domain": [-25, 2100], "nice": false, "zero": false}, "axis": {"values": [0,500,1000,1500,2000], "offset": 4, "labelPadding": 2, "format": "d", "labelOverlap": false}},
                      "color": {"field": "series", "type": "nominal", "scale": {"domain": ["upper", "individual", "lower"], "range": ["#e5302c", "#2e2e98", "#e5302c"]}, "legend": null}}},
        {"mark": {"type": "text", "dy": -9, "fontSize": 8, "color": "#333333", "clip": true},
         "encoding": {"x": {"field": "x", "type": "quantitative", "title": null, "scale": {"domain": [0.72, 6.17], "nice": false, "zero": false}, "axis": {"values": [1,2,3,4,5,6], "offset": 9, "format": "d", "labelOverlap": false}},
                      "y": {"field": "value", "type": "quantitative", "title": null, "scale": {"domain": [-25, 2100], "nice": false, "zero": false}, "axis": {"values": [0,500,1000,1500,2000], "offset": 4, "labelPadding": 2, "format": "d", "labelOverlap": false}},
                      "text": {"field": "value", "type": "quantitative", "format": ".2f"}}}
       ]}
     ]},
     {"width": 237, "height": 21, "view": {"fill": "#e8e6e8", "stroke": null}, "data": {"name": "scale"},
      "encoding": {"x": {"field": "level", "type": "ordinal", "scale": {"domain": [0,1,2,3,4,5,6], "paddingInner": 0.1, "paddingOuter": 0.35, "align": 0.41}, "axis": null},
                   "y": {"field": "row", "type": "nominal", "scale": {"paddingInner": 0, "paddingOuter": 0.667, "align": 0.25}, "axis": null}},
      "layer": [
       {"transform": [{"filter": "datum.level == 0"}], "mark": {"type": "rect", "fill": "#2b632b"}},
       {"transform": [{"filter": "datum.level == 1"}], "mark": {"type": "rect", "fill": {"gradient": "linear", "x1": 0, "x2": 1, "y1": 0, "y2": 0, "stops": [{"offset": 0, "color": "#1f5822"}, {"offset": 1, "color": "#3f8b3d"}]}}},
       {"transform": [{"filter": "datum.level == 2"}], "mark": {"type": "rect", "fill": {"gradient": "linear", "x1": 0, "x2": 1, "y1": 0, "y2": 0, "stops": [{"offset": 0, "color": "#3a9a3a"}, {"offset": 1, "color": "#93d046"}]}}},
       {"transform": [{"filter": "datum.level == 3"}], "mark": {"type": "rect", "fill": {"gradient": "linear", "x1": 0, "x2": 1, "y1": 0, "y2": 0, "stops": [{"offset": 0, "color": "#f7f442"}, {"offset": 1, "color": "#f4bf38"}]}}},
       {"transform": [{"filter": "datum.level == 4"}], "mark": {"type": "rect", "fill": "#f5b535"}},
       {"transform": [{"filter": "datum.level == 5"}], "mark": {"type": "rect", "fill": {"gradient": "linear", "x1": 0, "x2": 1, "y1": 0, "y2": 0, "stops": [{"offset": 0, "color": "#f5a834"}, {"offset": 1, "color": "#e2352c"}]}}},
       {"transform": [{"filter": "datum.level == 6"}], "mark": {"type": "rect", "fill": "#e5342f"}},
       {"transform": [{"filter": "datum.level > 0"}], "mark": {"type": "text", "dy": 14.5, "fontSize": 7, "fontWeight": "bold", "color": "#555555", "clip": true},
        "encoding": {"x": {"field": "level", "type": "ordinal", "bandPosition": 0.25, "scale": {"domain": [0,1,2,3,4,5,6], "paddingInner": 0.1, "paddingOuter": 0.35, "align": 0.41}, "axis": null}, "text": {"field": "label"}}},
       {"data": {"values": [{"level": 1, "row": "s"}]}, "mark": {"type": "point", "filled": true, "color": "#000000", "size": 85, "opacity": 1, "stroke": "#d0d8d0", "strokeWidth": 0.8}}
      ]}
    ]}
   ]}
  ]},
  {"spacing": 8, "hconcat": [
   {"spacing": 4.5, "vconcat": [
    {"spacing": 9.5, "hconcat": [
     {"width": 1, "height": 125, "view": {"stroke": null}, "data": {"values": []}, "mark": "point"},
     {"width": 206, "height": 125, "title": {"text": "A/Etio", "offset": 1}, "data": {"name": "aetio"},
      "layer": [
       {"data": {"values": [{"x": 1}, {"x": 2}, {"x": 3}, {"x": 4}, {"x": 5}, {"x": 6}]}, "mark": {"type": "rule", "color": "#dbd3de", "strokeWidth": 16},
        "encoding": {"x": {"field": "x", "type": "quantitative", "title": null, "scale": {"domain": [0.78, 6.25], "nice": false, "zero": false}, "axis": {"values": [1,2,3,4,5,6], "offset": 9.5, "format": "d", "labelOverlap": false}}}},
       {"data": {"values": [{"value": 0}]}, "mark": {"type": "rule", "color": "#9a9ad6", "strokeDash": [2, 2], "strokeWidth": 1},
        "encoding": {"y": {"field": "value", "type": "quantitative", "title": null, "scale": {"domain": [-0.05, 5.3], "nice": false, "zero": false}, "axis": {"values": [0,1,2,3,4,5], "offset": 4, "labelPadding": 3, "labelOverlap": false}}}},
       {"mark": {"type": "line", "strokeWidth": 1.6, "opacity": 0.8},
        "encoding": {"x": {"field": "x", "type": "quantitative", "title": null, "scale": {"domain": [0.78, 6.25], "nice": false, "zero": false}, "axis": {"values": [1,2,3,4,5,6], "offset": 9.5, "format": "d", "labelOverlap": false}},
                     "y": {"field": "value", "type": "quantitative", "title": null, "scale": {"domain": [-0.05, 5.3], "nice": false, "zero": false}, "axis": {"values": [0,1,2,3,4,5], "offset": 4, "labelPadding": 3, "labelOverlap": false}},
                     "color": {"field": "series", "type": "nominal", "scale": {"domain": ["upper", "individual", "lower"], "range": ["#e5302c", "#2e2e98", "#e5302c"]}, "legend": null}}},
       {"mark": {"type": "circle", "size": 48, "opacity": 1},
        "encoding": {"x": {"field": "x", "type": "quantitative", "title": null, "scale": {"domain": [0.78, 6.25], "nice": false, "zero": false}, "axis": {"values": [1,2,3,4,5,6], "offset": 9.5, "format": "d", "labelOverlap": false}},
                     "y": {"field": "value", "type": "quantitative", "title": null, "scale": {"domain": [-0.05, 5.3], "nice": false, "zero": false}, "axis": {"values": [0,1,2,3,4,5], "offset": 4, "labelPadding": 3, "labelOverlap": false}},
                     "color": {"field": "series", "type": "nominal", "scale": {"domain": ["upper", "individual", "lower"], "range": ["#e5302c", "#2e2e98", "#e5302c"]}, "legend": null}}},
       {"mark": {"type": "text", "dy": -9, "fontSize": 8, "color": "#333333", "clip": true},
        "encoding": {"x": {"field": "x", "type": "quantitative", "title": null, "scale": {"domain": [0.78, 6.25], "nice": false, "zero": false}, "axis": {"values": [1,2,3,4,5,6], "offset": 9.5, "format": "d", "labelOverlap": false}},
                     "y": {"field": "value", "type": "quantitative", "title": null, "scale": {"domain": [-0.05, 5.3], "nice": false, "zero": false}, "axis": {"values": [0,1,2,3,4,5], "offset": 4, "labelPadding": 3, "labelOverlap": false}},
                     "text": {"field": "value", "type": "quantitative", "format": ".2f"}}}
      ]}
    ]},
    {"width": 243, "height": 30, "view": {"fill": "#e8e6e8", "stroke": null}, "data": {"name": "scale"},
     "encoding": {"x": {"field": "level", "type": "ordinal", "scale": {"domain": [0,1,2,3,4,5,6], "paddingInner": 0.1, "paddingOuter": 0.41, "align": 0.5}, "axis": null},
                  "y": {"field": "row", "type": "nominal", "scale": {"paddingInner": 0, "paddingOuter": 1.167, "align": 0.238}, "axis": null}},
     "layer": [
      {"transform": [{"filter": "datum.level == 0"}], "mark": {"type": "rect", "fill": "#2b632b"}},
      {"transform": [{"filter": "datum.level == 1"}], "mark": {"type": "rect", "fill": {"gradient": "linear", "x1": 0, "x2": 1, "y1": 0, "y2": 0, "stops": [{"offset": 0, "color": "#1f5822"}, {"offset": 1, "color": "#3f8b3d"}]}}},
      {"transform": [{"filter": "datum.level == 2"}], "mark": {"type": "rect", "fill": {"gradient": "linear", "x1": 0, "x2": 1, "y1": 0, "y2": 0, "stops": [{"offset": 0, "color": "#3a9a3a"}, {"offset": 1, "color": "#93d046"}]}}},
      {"transform": [{"filter": "datum.level == 3"}], "mark": {"type": "rect", "fill": {"gradient": "linear", "x1": 0, "x2": 1, "y1": 0, "y2": 0, "stops": [{"offset": 0, "color": "#f7f442"}, {"offset": 1, "color": "#f4bf38"}]}}},
      {"transform": [{"filter": "datum.level == 4"}], "mark": {"type": "rect", "fill": "#f5b535"}},
      {"transform": [{"filter": "datum.level == 5"}], "mark": {"type": "rect", "fill": {"gradient": "linear", "x1": 0, "x2": 1, "y1": 0, "y2": 0, "stops": [{"offset": 0, "color": "#f5a834"}, {"offset": 1, "color": "#e2352c"}]}}},
      {"transform": [{"filter": "datum.level == 6"}], "mark": {"type": "rect", "fill": "#e5342f"}},
      {"transform": [{"filter": "datum.level > 0"}], "mark": {"type": "text", "dy": 15.5, "fontSize": 7, "fontWeight": "bold", "color": "#555555"},
       "encoding": {"x": {"field": "level", "type": "ordinal", "bandPosition": 0.25, "scale": {"domain": [0,1,2,3,4,5,6], "paddingInner": 0.1, "paddingOuter": 0.41, "align": 0.5}, "axis": null}, "text": {"field": "label"}}},
      {"data": {"values": [{"level": 0, "row": "s"}]}, "mark": {"type": "point", "filled": true, "color": "#000000", "size": 85, "opacity": 1, "stroke": "#d0d8d0", "strokeWidth": 0.8}}
     ]}
   ]},
   {"spacing": 6.5, "vconcat": [
    {"spacing": 9.5, "hconcat": [
     {"width": 1, "height": 125, "view": {"stroke": null}, "data": {"values": []}, "mark": "point"},
     {"width": 205, "height": 125, "title": {"text": "5a-diol/5b-diol", "offset": 1}, "data": {"name": "diol"},
      "layer": [
       {"data": {"values": [{"x": 1}, {"x": 2}, {"x": 3}, {"x": 4}, {"x": 5}, {"x": 6}]}, "mark": {"type": "rule", "color": "#dbd3de", "strokeWidth": 16},
        "encoding": {"x": {"field": "x", "type": "quantitative", "title": null, "scale": {"domain": [0.76, 6.27], "nice": false, "zero": false}, "axis": {"values": [1,2,3,4,5,6], "offset": 9.5, "format": "d", "labelOverlap": false}}}},
       {"data": {"values": [{"value": 0}]}, "mark": {"type": "rule", "color": "#9a9ad6", "strokeDash": [2, 2], "strokeWidth": 1},
        "encoding": {"y": {"field": "value", "type": "quantitative", "title": null, "scale": {"domain": [-0.15, 3.57], "nice": false, "zero": false}, "axis": {"values": [0,1,2,3], "offset": 4, "labelPadding": 3, "labelOverlap": false}}}},
       {"mark": {"type": "line", "strokeWidth": 1.6, "opacity": 0.8},
        "encoding": {"x": {"field": "x", "type": "quantitative", "title": null, "scale": {"domain": [0.76, 6.27], "nice": false, "zero": false}, "axis": {"values": [1,2,3,4,5,6], "offset": 9.5, "format": "d", "labelOverlap": false}},
                     "y": {"field": "value", "type": "quantitative", "title": null, "scale": {"domain": [-0.15, 3.57], "nice": false, "zero": false}, "axis": {"values": [0,1,2,3], "offset": 4, "labelPadding": 3, "labelOverlap": false}},
                     "color": {"field": "series", "type": "nominal", "scale": {"domain": ["upper", "individual", "lower"], "range": ["#e5302c", "#2e2e98", "#e5302c"]}, "legend": null}}},
       {"mark": {"type": "circle", "size": 48, "opacity": 1},
        "encoding": {"x": {"field": "x", "type": "quantitative", "title": null, "scale": {"domain": [0.76, 6.27], "nice": false, "zero": false}, "axis": {"values": [1,2,3,4,5,6], "offset": 9.5, "format": "d", "labelOverlap": false}},
                     "y": {"field": "value", "type": "quantitative", "title": null, "scale": {"domain": [-0.15, 3.57], "nice": false, "zero": false}, "axis": {"values": [0,1,2,3], "offset": 4, "labelPadding": 3, "labelOverlap": false}},
                     "color": {"field": "series", "type": "nominal", "scale": {"domain": ["upper", "individual", "lower"], "range": ["#e5302c", "#2e2e98", "#e5302c"]}, "legend": null}}},
       {"mark": {"type": "text", "dy": -9, "fontSize": 8, "color": "#333333", "clip": true},
        "encoding": {"x": {"field": "x", "type": "quantitative", "title": null, "scale": {"domain": [0.76, 6.27], "nice": false, "zero": false}, "axis": {"values": [1,2,3,4,5,6], "offset": 9.5, "format": "d", "labelOverlap": false}},
                     "y": {"field": "value", "type": "quantitative", "title": null, "scale": {"domain": [-0.15, 3.57], "nice": false, "zero": false}, "axis": {"values": [0,1,2,3], "offset": 4, "labelPadding": 3, "labelOverlap": false}},
                     "text": {"field": "value", "type": "quantitative", "format": ".2f"}}}
      ]}
    ]},
    {"width": 240, "height": 28, "view": {"fill": "#e8e6e8", "stroke": null}, "data": {"name": "scale"},
     "encoding": {"x": {"field": "level", "type": "ordinal", "scale": {"domain": [0,1,2,3,4,5,6], "paddingInner": 0.1, "paddingOuter": 0.40, "align": 0.56}, "axis": null},
                  "y": {"field": "row", "type": "nominal", "scale": {"paddingInner": 0, "paddingOuter": 1.056, "align": 0.17}, "axis": null}},
     "layer": [
      {"transform": [{"filter": "datum.level == 0"}], "mark": {"type": "rect", "fill": "#2b632b"}},
      {"transform": [{"filter": "datum.level == 1"}], "mark": {"type": "rect", "fill": {"gradient": "linear", "x1": 0, "x2": 1, "y1": 0, "y2": 0, "stops": [{"offset": 0, "color": "#1f5822"}, {"offset": 1, "color": "#3f8b3d"}]}}},
      {"transform": [{"filter": "datum.level == 2"}], "mark": {"type": "rect", "fill": {"gradient": "linear", "x1": 0, "x2": 1, "y1": 0, "y2": 0, "stops": [{"offset": 0, "color": "#3a9a3a"}, {"offset": 1, "color": "#93d046"}]}}},
      {"transform": [{"filter": "datum.level == 3"}], "mark": {"type": "rect", "fill": {"gradient": "linear", "x1": 0, "x2": 1, "y1": 0, "y2": 0, "stops": [{"offset": 0, "color": "#f7f442"}, {"offset": 1, "color": "#f4bf38"}]}}},
      {"transform": [{"filter": "datum.level == 4"}], "mark": {"type": "rect", "fill": "#f5b535"}},
      {"transform": [{"filter": "datum.level == 5"}], "mark": {"type": "rect", "fill": {"gradient": "linear", "x1": 0, "x2": 1, "y1": 0, "y2": 0, "stops": [{"offset": 0, "color": "#f5a834"}, {"offset": 1, "color": "#e2352c"}]}}},
      {"transform": [{"filter": "datum.level == 6"}], "mark": {"type": "rect", "fill": "#e5342f"}},
      {"transform": [{"filter": "datum.level > 0"}], "mark": {"type": "text", "dy": 14.2, "fontSize": 7, "fontWeight": "bold", "color": "#555555"},
       "encoding": {"x": {"field": "level", "type": "ordinal", "bandPosition": 0.25, "scale": {"domain": [0,1,2,3,4,5,6], "paddingInner": 0.1, "paddingOuter": 0.40, "align": 0.56}, "axis": null}, "text": {"field": "label"}}},
      {"data": {"values": [{"level": 0, "row": "s"}]}, "mark": {"type": "point", "filled": true, "color": "#000000", "size": 85, "opacity": 1, "stroke": "#d0d8d0", "strokeWidth": 0.8}}
     ]}
   ]}
  ]}
 ]}
]
}
